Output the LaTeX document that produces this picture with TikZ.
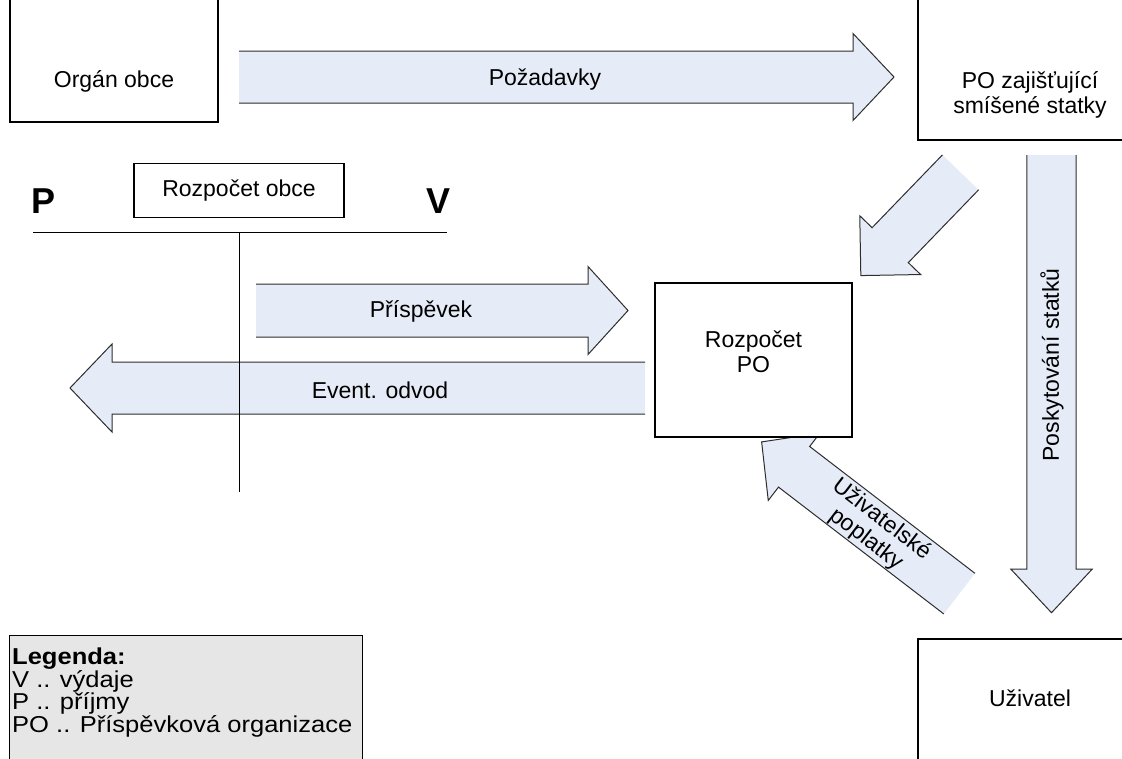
\documentclass[tikz,border=0pt]{standalone}
\usepackage{fontspec}
\setmainfont{Liberation Sans}
\newfontfamily\legendfont{Liberation Sans}[FakeStretch=1.11]
\usetikzlibrary{calc}

\definecolor{arrowblue}{RGB}{230,236,247}
\definecolor{legendgray}{RGB}{230,230,230}
\definecolor{edgegray}{RGB}{45,45,45}

\tikzset{
  box/.style={draw=black, line width=1.4pt, fill=white, inner sep=0pt},
  lbl/.style={font=\fontsize{23}{25}\selectfont, align=center, inner sep=0pt},
  side/.style={font=\fontsize{36}{36}\selectfont\bfseries, inner sep=0pt},
  legendbox/.style={draw=black, line width=1.4pt, fill=legendgray},
  legendtext/.style={font=\legendfont\fontsize{23}{22.5}\selectfont, align=left, anchor=north west, inner sep=0pt},
  arrowfill/.style={fill=arrowblue},
  arrowline/.style={draw=edgegray, line width=1pt, line join=miter},
  account/.style={draw=black, line width=0.9pt},
}

% Block arrow: tail centre, direction, length, shaft half-width,
% head half-width, head length.  The tail end is left without outline.
\newcommand{\blockarrow}[6]{%
  \begin{scope}[shift={#1}, rotate=#2]
    \path[arrowfill] (0,-#4) -- (#3-#6,-#4) -- (#3-#6,-#5) -- (#3,0)
      -- (#3-#6,#5) -- (#3-#6,#4) -- (0,#4) -- cycle;
    \path[arrowline] (0,-#4) -- (#3-#6,-#4) -- (#3-#6,-#5) -- (#3,0)
      -- (#3-#6,#5) -- (#3-#6,#4) -- (0,#4);
  \end{scope}}

\begin{document}
\begin{tikzpicture}[x=1pt, y=-1pt]
  \clip (0,0) rectangle (1122,758);

  % block arrows
  \blockarrow{(239,77)}{0}{655}{26}{43.5}{41}
  \blockarrow{(256,310.5)}{0}{372}{26.5}{44}{40}
  \blockarrow{(645,388)}{180}{575}{26}{44}{42}
  \blockarrow{(1051.5,155)}{-90}{457.7}{24.7}{40.8}{43.7}
  \blockarrow{(960.5,172.35)}{-134}{143.5}{25.15}{42.3}{42.3}
  \blockarrow{(959.4,593.65)}{142.5}{249.3}{25.6}{42.4}{40.9}

  % arrow labels
  \node[lbl] (pozadavky) at (545,80) {Požadavky};
  \node[lbl] (prispevek) at (421,311) {Příspěvek};
  \node[lbl] (odvod) at (380,390) {Event. odvod};
  \node[lbl, rotate=90] (poskytovani) at (1052,365) {Poskytování statků};
  \node[lbl, rotate=-37.5] (poplatky) at (874,529.5) {Uživatelské\\poplatky};

  % boxes
  \node[box, minimum width=208, minimum height=200] (organ) at (114,22) {};
  \node[lbl] (organtext) at (114,81) {Orgán obce};
  \node[box, minimum width=224, minimum height=260] (zajist) at (1030,10) {};
  \node[lbl] (zajisttext) at (1030,95) {PO zajišťující\\smíšené statky};
  \node[box, minimum width=224, minimum height=200] (uzivatel) at (1030,739) {};
  \node[lbl] (uzivateltext) at (1030,698) {Uživatel};
  \node[box, minimum width=197, minimum height=154] (rozpPO) at (753.5,360) {};
  \node[lbl] (rozpPOtext) at (753.5,352) {Rozpočet\\PO};

  % budget of the municipality as a T-account
  \node[box, minimum width=210, minimum height=54] (rozpobce) at (239,190.5) {};
  \node[lbl] (rozpobcetext) at (239,190.5) {Rozpočet obce};
  \node[side] (P) at (44,201) {P};
  \node[side] (V) at (439,201) {V};
  \coordinate (hlL) at (33,232);
  \coordinate (hlR) at (447,232);
  \coordinate (vlT) at (239,232);
  \coordinate (vlB) at (239,492);
  \draw[account] (hlL) -- (hlR);
  \draw[account] (vlT) -- (vlB);

  % legend
  \node[legendbox, minimum width=353, minimum height=200, anchor=north west] (legend) at (9,635) {};
  \node[legendtext] (legendtext) at (12,648)
    {\textbf{Legenda:}\\V .. výdaje\\P .. příjmy\\PO .. Příspěvková organizace};
\end{tikzpicture}
\end{document}
